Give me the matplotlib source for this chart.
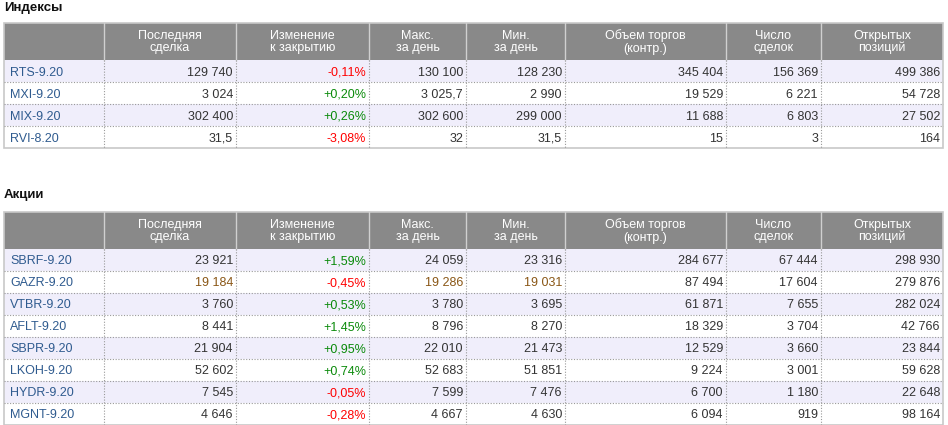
import matplotlib
matplotlib.use("Agg")
import matplotlib.pyplot as plt
from matplotlib.patches import Rectangle

plt.rcParams['font.family'] = ['Liberation Sans', 'DejaVu Sans']

headers = ["", "Последняя\nсделка", "Изменение\nк закрытию", "Макс.\nза день",
           "Мин.\nза день", "Объем торгов\n(контр.)", "Число\nсделок", "Открытых\nпозиций"]

# Indices table
idx_names = ["RTS-9.20", "MXI-9.20", "MIX-9.20", "RVI-8.20"]
idx_last = [129740, 3024, 302400, 31.5]
idx_change = [-0.11, 0.20, 0.26, -3.08]
idx_max = [130100, 3025.7, 302600, 32]
idx_min = [128230, 2990, 299000, 31.5]
idx_volume = [345404, 19529, 11688, 15]
idx_deals = [156369, 6221, 6803, 3]
idx_oi = [499386, 54728, 27502, 164]

# Shares table
sh_names = ["SBRF-9.20", "GAZR-9.20", "VTBR-9.20", "AFLT-9.20", "SBPR-9.20",
            "LKOH-9.20", "HYDR-9.20", "MGNT-9.20"]
sh_last = [23921, 19184, 3760, 8441, 21904, 52602, 7545, 4646]
sh_change = [1.59, -0.45, 0.53, 1.45, 0.95, 0.74, -0.05, -0.28]
sh_max = [24059, 19286, 3780, 8796, 22010, 52683, 7599, 4667]
sh_min = [23316, 19031, 3695, 8270, 21473, 51851, 7476, 4630]
sh_volume = [284677, 87494, 61871, 18329, 12529, 9224, 6700, 6094]
sh_deals = [67444, 17604, 7655, 3704, 3660, 3001, 1180, 919]
sh_oi = [298930, 279876, 282024, 42766, 23844, 59628, 22648, 98164]

col_edges = [4, 104, 236, 369, 466, 565, 726, 821, 943]

HEADER_BG = "#898989"
ROW_ALT = "#f0eefb"
NAME_COLOR = "#2f5b8f"
NUM_COLOR = "#333333"
POS = "#0a8a0a"
NEG = "#ff0000"
HILITE = "#8a5716"
BORDER = "#c8c8c8"
DOT = "#999999"


def fmt_num(v):
    if float(v).is_integer():
        s = f"{int(v):,}".replace(",", " ")
    else:
        ip = int(v)
        frac = f"{v:.1f}".split(".")[1]
        s = f"{ip:,}".replace(",", " ") + "," + frac
    return s


def fmt_chg(v):
    return f"{v:+.2f}".replace(".", ",") + "%"


fig = plt.figure(figsize=(9.48, 4.25), dpi=100)
ax = fig.add_axes([0, 0, 1, 1])
ax.set_xlim(0, 948)
ax.set_ylim(425, 0)
ax.axis("off")


def draw_table(title, title_y, top, names, cols, chg, highlight_rows=()):
    ax.text(4, title_y, title, fontsize=9.5, fontweight="bold", color="#111111",
            ha="left", va="center")
    hdr_h = 37
    row_h = 22
    left, right = col_edges[0], col_edges[-1]
    ax.add_patch(Rectangle((left, top), right - left, hdr_h, facecolor=HEADER_BG,
                           edgecolor="none"))
    for i, h in enumerate(headers):
        if not h:
            continue
        cx = (col_edges[i] + col_edges[i + 1]) / 2
        ax.text(cx, top + hdr_h / 2 + 0.5, h, fontsize=9, color="white", ha="center",
                va="center", linespacing=1.05)
    for x in col_edges[1:-1]:
        ax.plot([x, x], [top, top + hdr_h], color="#d0d0d0", lw=1.0)
    n = len(names)
    body_top = top + hdr_h
    for r in range(n):
        y0 = body_top + r * row_h
        if r % 2 == 0:
            ax.add_patch(Rectangle((left, y0), right - left, row_h, facecolor=ROW_ALT,
                                   edgecolor="none"))
        yb = y0 + 15.5
        ax.text(left + 6, yb, names[r], fontsize=9, color=NAME_COLOR, ha="left",
                va="baseline")
        values = [cols[0][r], chg[r]] + [c[r] for c in cols[1:]]
        for j, v in enumerate(values):
            xr = col_edges[j + 2] - 3
            if j == 1:
                s = fmt_chg(v)
                color = POS if v > 0 else NEG
            else:
                s = fmt_num(v)
                color = HILITE if (r in highlight_rows and j in (0, 2, 3)) else NUM_COLOR
            ax.text(xr, yb, s, fontsize=9, color=color, ha="right", va="baseline")
        if r > 0:
            ax.plot([left, right], [y0, y0], color=DOT, lw=0.8, linestyle=(0, (1, 1.5)))
    body_bot = body_top + n * row_h
    for x in col_edges[1:-1]:
        ax.plot([x, x], [body_top, body_bot], color=DOT, lw=0.8, linestyle=(0, (1, 1.5)))
    ax.add_patch(Rectangle((left, top), right - left, body_bot - top, facecolor="none",
                           edgecolor=BORDER, lw=1.2))


draw_table("Индексы", 8, 23, idx_names,
           [idx_last, idx_max, idx_min, idx_volume, idx_deals, idx_oi], idx_change)
draw_table("Акции", 195, 212, sh_names,
           [sh_last, sh_max, sh_min, sh_volume, sh_deals, sh_oi], sh_change,
           highlight_rows=(1,))

fig.savefig("out.png", dpi=100)
